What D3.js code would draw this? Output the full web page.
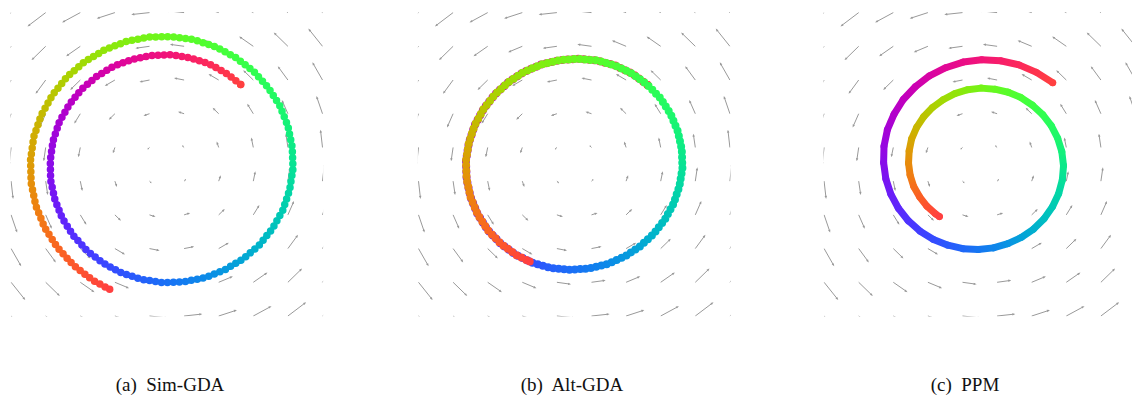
<!DOCTYPE html>
<html>
<head>
<meta charset="utf-8">
<script src="https://cdn.jsdelivr.net/npm/d3@7"></script>
<style>
  body { margin: 0; background: #fff; }
  svg { display: block; }
</style>
</head>
<body>
<div id="chart"></div>
<script>
const width = 1132,
    height = 400;

// Quiver grid (data units) and the field components, per row and per column
const gridX = [-4.5, -3.5, -2.5, -1.5, -0.5, 0.5, 1.5, 2.5, 3.5, 4.5];
const gridY = [4.5, 3.5, 2.5, 1.5, 0.5, -0.5, -1.5, -2.5, -3.5, -4.5];
const fieldU = [-4.5, -3.5, -2.5, -1.5, -0.5, 0.5, 1.5, 2.5, 3.5, 4.5];   // one per row
const fieldV = [-4.5, -3.5, -2.5, -1.5, -0.5, 0.5, 1.5, 2.5, 3.5, 4.5];   // one per column

// Trajectories: [angle in degrees, radius]
const simGDA = [
    [48, 3.19], [58, 3.20], [68, 3.22], [78, 3.23], [88, 3.25], [98, 3.26], [108, 3.27], [118, 3.29],
    [128, 3.30], [138, 3.32], [148, 3.33], [158, 3.35], [168, 3.36], [178, 3.37], [188, 3.39], [198, 3.40],
    [208, 3.42], [218, 3.43], [228, 3.45], [238, 3.46], [248, 3.48], [258, 3.49], [268, 3.51], [278, 3.52],
    [288, 3.54], [298, 3.55], [308, 3.57], [318, 3.59], [328, 3.60], [338, 3.62], [348, 3.63], [358, 3.65],
    [368, 3.66], [378, 3.68], [388, 3.70], [398, 3.71], [408, 3.73], [418, 3.74], [428, 3.76], [438, 3.78],
    [448, 3.79], [458, 3.81], [468, 3.83], [478, 3.84], [488, 3.86], [498, 3.88], [508, 3.89], [518, 3.91],
    [528, 3.93], [538, 3.94], [548, 3.96], [558, 3.98], [568, 4.00], [578, 4.01], [588, 4.03], [598, 4.05],
    [606, 4.06]
];
const altGDA = [
    [48, 3.17], [58, 3.17], [68, 3.16], [78, 3.15], [88, 3.13], [98, 3.12], [108, 3.11], [118, 3.10],
    [128, 3.09], [138, 3.09], [148, 3.09], [158, 3.10], [168, 3.11], [178, 3.13], [188, 3.14], [198, 3.15],
    [208, 3.16], [218, 3.17], [228, 3.17], [238, 3.17], [248, 3.16], [258, 3.15], [268, 3.13], [278, 3.12],
    [288, 3.11], [298, 3.10], [308, 3.09], [318, 3.09], [328, 3.09], [338, 3.10], [348, 3.11], [358, 3.13],
    [368, 3.14], [378, 3.15], [388, 3.16], [398, 3.17], [408, 3.17], [418, 3.17], [428, 3.16], [438, 3.15],
    [448, 3.13], [458, 3.12], [468, 3.11], [478, 3.10], [488, 3.09], [498, 3.09], [508, 3.09], [518, 3.10],
    [528, 3.11], [538, 3.13], [548, 3.14], [558, 3.15], [568, 3.16], [578, 3.17], [588, 3.17], [598, 3.17],
    [606, 3.16]
];
const ppm = [
    [49, 3.21], [59, 3.18], [69, 3.16], [79, 3.13], [89, 3.10], [99, 3.07], [109, 3.03], [119, 3.00],
    [129, 2.96], [139, 2.93], [149, 2.89], [159, 2.86], [169, 2.82], [179, 2.78], [189, 2.75], [199, 2.72],
    [209, 2.69], [219, 2.66], [229, 2.63], [239, 2.60], [249, 2.57], [259, 2.55], [269, 2.53], [279, 2.51],
    [289, 2.49], [299, 2.48], [309, 2.47], [319, 2.46], [329, 2.45], [339, 2.44], [349, 2.43], [359, 2.42],
    [369, 2.40], [379, 2.38], [389, 2.36], [399, 2.34], [409, 2.32], [419, 2.31], [429, 2.29], [439, 2.27],
    [449, 2.26], [459, 2.24], [469, 2.22], [479, 2.19], [489, 2.17], [499, 2.15], [509, 2.13], [519, 2.11],
    [529, 2.08], [539, 2.06], [549, 2.04], [559, 2.02], [569, 1.99], [579, 1.97], [589, 1.95], [593, 1.94]
];

const captions = ["(a)  Sim-GDA", "(b)  Alt-GDA", "(c)  PPM"];

// layout of the three panels
const panels = [
    { data: simGDA, cx: 166.8, capX: 170, dotted: true, gap: 6.0, size: 7.5 },
    { data: altGDA, cx: 574.2, capX: 572, dotted: true, gap: 5.4, size: 8 },
    { data: ppm, cx: 979.8, capX: 965, dotted: false, gap: 0, size: 7 }
];
const cy = 164.3,
    halfW = 155.7,
    halfH = 151.7;
const arrowLen = 0.117;   // quiver scale
const arrowColor = "#999";
const color = d3.interpolateSinebow;

const svg = d3.select("#chart")
    .append("svg")
    .attr("width", width)
    .attr("height", height);

svg.append("rect")
    .attr("width", width)
    .attr("height", height)
    .attr("fill", "#fff");

const defs = svg.append("defs");

// one record per arrow
const arrows = [];
gridY.forEach((gy, j) => {
    gridX.forEach((gx, i) => {
        arrows.push({ x: gx, y: gy, u: fieldU[j], v: fieldV[i] });
    });
});

panels.forEach((p, pi) => {
    const x = d3.scaleLinear().domain([-4.5, 4.5]).range([p.cx - halfW, p.cx + halfW]);
    const y = d3.scaleLinear().domain([-4.5, 4.5]).range([cy + halfH, cy - halfH]);

    defs.append("clipPath")
        .attr("id", "clip" + pi)
        .append("rect")
        .attr("x", x(-4.5) - 0.6)
        .attr("y", y(4.5) - 0.6)
        .attr("width", x(4.5) - x(-4.5) + 1.2)
        .attr("height", y(-4.5) - y(4.5) + 1.2);

    const g = svg.append("g");

    // vector field
    const field = g.append("g").attr("clip-path", `url(#clip${pi})`);
    field.selectAll("g.arrow")
        .data(arrows)
        .join("g")
        .attr("class", "arrow")
        .each(function(d) {
            const x0 = x(d.x), y0 = y(d.y);
            const x1 = x(d.x + arrowLen * d.u), y1 = y(d.y + arrowLen * d.v);
            const len = Math.hypot(x1 - x0, y1 - y0);
            const ux = (x1 - x0) / len, uy = (y1 - y0) / len;
            const hl = Math.min(3, len * 0.5), hw = Math.min(1.2, len * 0.3);
            const sel = d3.select(this);
            sel.append("line")
                .attr("x1", x0).attr("y1", y0)
                .attr("x2", x1 - ux * hl * 0.6).attr("y2", y1 - uy * hl * 0.6)
                .attr("stroke", arrowColor)
                .attr("stroke-width", 1);
            sel.append("path")
                .attr("d", `M${x1},${y1}L${x1 - ux * hl - uy * hw},${y1 - uy * hl + ux * hw}L${x1 - ux * hl + uy * hw},${y1 - uy * hl - ux * hw}Z`)
                .attr("fill", arrowColor);
        });

    // trajectory
    const pts = p.data.map(([deg, r]) => {
        const a = deg * Math.PI / 180;
        return [x(r * Math.cos(a)), y(r * Math.sin(a))];
    });
    const last = pts.length - 1;
    const a0 = p.data[0][0], a1 = p.data[last][0];
    const cols = p.data.map(([deg]) => color(1 - (deg - a0) / (a1 - a0)));

    const traj = g.append("g");
    const dot = k => traj.append("circle")
        .attr("cx", pts[k][0])
        .attr("cy", pts[k][1])
        .attr("r", p.size / 2)
        .attr("fill", cols[k]);

    dot(0);   // first iterate, under everything that follows
    let cum = 0;
    for (let k = 0; k < last; k++) {
        const id = `grad${pi}_${k}`;
        const gr = defs.append("linearGradient")
            .attr("id", id)
            .attr("gradientUnits", "userSpaceOnUse")
            .attr("x1", pts[k][0]).attr("y1", pts[k][1])
            .attr("x2", pts[k + 1][0]).attr("y2", pts[k + 1][1]);
        gr.append("stop").attr("offset", 0).attr("stop-color", cols[k]);
        gr.append("stop").attr("offset", 1).attr("stop-color", cols[k + 1]);

        const seg = traj.append("path")
            .attr("d", `M${pts[k]}L${pts[k + 1]}`)
            .attr("fill", "none")
            .attr("stroke", `url(#${id})`)
            .attr("stroke-width", p.size)
            .attr("stroke-linecap", "round");
        if (p.dotted) {
            seg.attr("stroke-dasharray", `0 ${p.gap}`)
                .attr("stroke-dashoffset", cum % p.gap);
        }
        cum += Math.hypot(pts[k + 1][0] - pts[k][0], pts[k + 1][1] - pts[k][1]);
    }
    dot(last);   // last iterate

    svg.append("text")
        .attr("x", p.capX)
        .attr("y", 391)
        .attr("text-anchor", "middle")
        .attr("font-family", "'Liberation Serif', 'DejaVu Serif', serif")
        .attr("font-size", 19)
        .attr("fill", "#111")
        .attr("xml:space", "preserve")
        .style("white-space", "pre")
        .text(captions[pi]);
});
</script>
</body>
</html>
